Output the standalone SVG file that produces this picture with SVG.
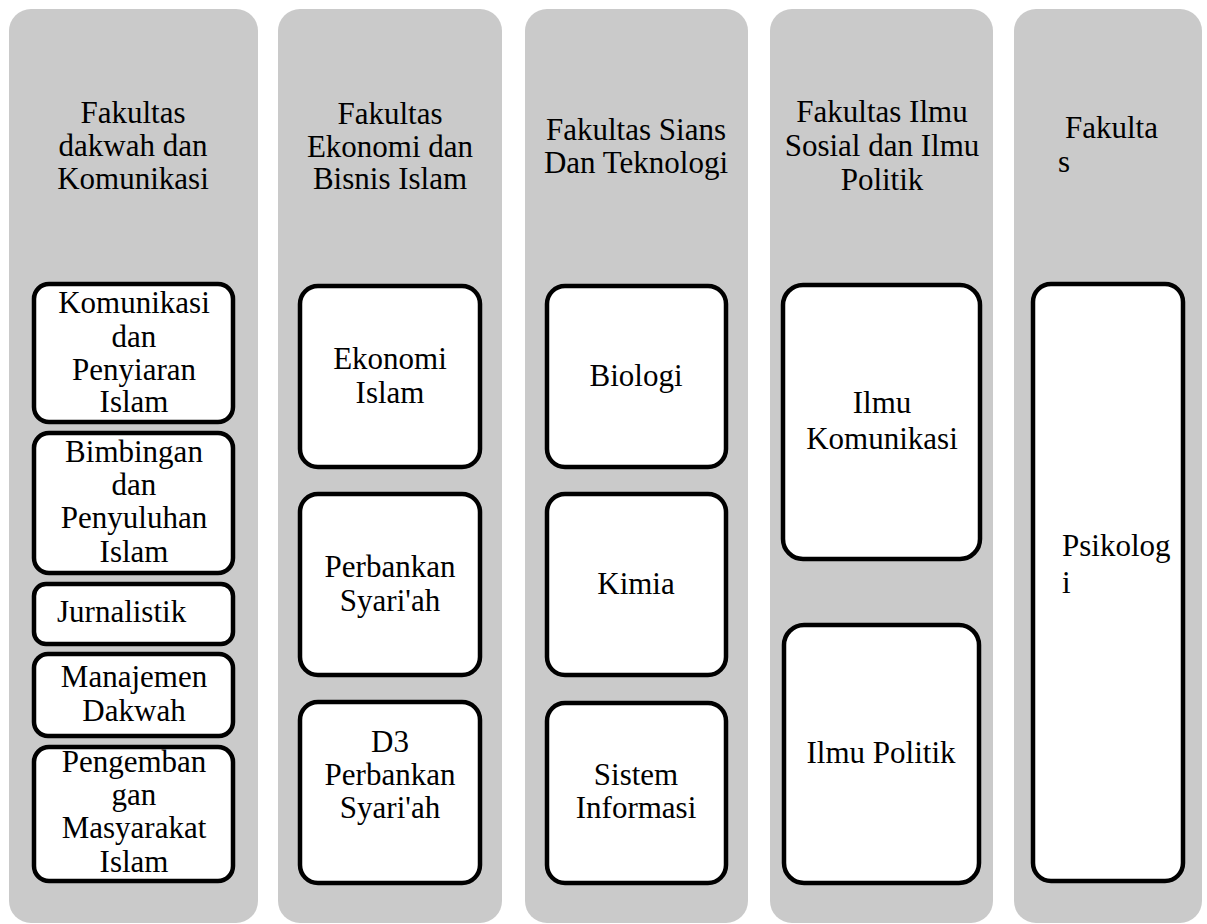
<svg xmlns="http://www.w3.org/2000/svg" width="1207" height="924" viewBox="0 0 1207 924">
<style>
.col{fill:#cacaca;stroke:none}
.box{fill:#ffffff;stroke:#000000;stroke-width:4.5}
text{font-family:"Liberation Serif","Times New Roman",serif;font-size:31px;fill:#000000}
.c{text-anchor:middle}
</style>
<rect width="1207" height="924" fill="#ffffff"/>
<g id="col1">
<rect class="col" x="9" y="9" width="249" height="914" rx="22"/>
<text class="c" x="133" y="123">Fakultas</text>
<text class="c" x="133" y="156">dakwah dan</text>
<text class="c" x="133" y="189">Komunikasi</text>
</g>
<g id="kpi">
<rect class="box" x="34" y="284" width="199" height="138" rx="15"/>
<text class="c" x="134" y="313">Komunikasi</text>
<text class="c" x="134" y="347">dan</text>
<text class="c" x="134" y="380">Penyiaran</text>
<text class="c" x="134" y="412">Islam</text>
</g>
<g id="bpi">
<rect class="box" x="34" y="433" width="199" height="140" rx="15"/>
<text class="c" x="134" y="462">Bimbingan</text>
<text class="c" x="134" y="495">dan</text>
<text class="c" x="134" y="528">Penyuluhan</text>
<text class="c" x="134" y="562">Islam</text>
</g>
<g id="jurnalistik">
<rect class="box" x="34" y="584" width="199" height="60" rx="12"/>
<text x="57" y="622">Jurnalistik</text>
</g>
<g id="md">
<rect class="box" x="34" y="654" width="199" height="82" rx="14"/>
<text class="c" x="134" y="687">Manajemen</text>
<text class="c" x="134" y="721">Dakwah</text>
</g>
<g id="pmi">
<rect class="box" x="34" y="747" width="199" height="134" rx="15"/>
<text class="c" x="134" y="772">Pengemban</text>
<text class="c" x="134" y="805">gan</text>
<text class="c" x="134" y="838">Masyarakat</text>
<text class="c" x="134" y="872">Islam</text>
</g>
<g id="col2">
<rect class="col" x="278" y="9" width="224" height="914" rx="22"/>
<text class="c" x="390" y="124">Fakultas</text>
<text class="c" x="390" y="157">Ekonomi dan</text>
<text class="c" x="390" y="189">Bisnis Islam</text>
</g>
<g id="ekonomi-islam">
<rect class="box" x="300" y="286" width="180" height="181" rx="18"/>
<text class="c" x="390" y="369">Ekonomi</text>
<text class="c" x="390" y="403">Islam</text>
</g>
<g id="perbankan-syariah">
<rect class="box" x="300" y="494" width="180" height="181" rx="18"/>
<text class="c" x="390" y="577">Perbankan</text>
<text class="c" x="390" y="611">Syari'ah</text>
</g>
<g id="d3-perbankan">
<rect class="box" x="300" y="702" width="180" height="181" rx="18"/>
<text class="c" x="390" y="752">D3</text>
<text class="c" x="390" y="785">Perbankan</text>
<text class="c" x="390" y="818">Syari'ah</text>
</g>
<g id="col3">
<rect class="col" x="525" y="9" width="223" height="914" rx="22"/>
<text class="c" x="636" y="140">Fakultas Sians</text>
<text class="c" x="636" y="173">Dan Teknologi</text>
</g>
<g id="biologi">
<rect class="box" x="547" y="286" width="179" height="181" rx="18"/>
<text class="c" x="636" y="386">Biologi</text>
</g>
<g id="kimia">
<rect class="box" x="547" y="494" width="179" height="181" rx="18"/>
<text class="c" x="636" y="594">Kimia</text>
</g>
<g id="sistem-informasi">
<rect class="box" x="547" y="703" width="179" height="180" rx="18"/>
<text class="c" x="636" y="785">Sistem</text>
<text class="c" x="636" y="818">Informasi</text>
</g>
<g id="col4">
<rect class="col" x="770" y="9" width="223" height="914" rx="22"/>
<text class="c" x="882" y="122">Fakultas Ilmu</text>
<text class="c" x="882" y="156">Sosial dan Ilmu</text>
<text class="c" x="882" y="190">Politik</text>
</g>
<g id="ilmu-komunikasi">
<rect class="box" x="783" y="285" width="197" height="274" rx="20"/>
<text class="c" x="882" y="413">Ilmu</text>
<text class="c" x="882" y="449">Komunikasi</text>
</g>
<g id="ilmu-politik">
<rect class="box" x="784" y="625" width="195" height="258" rx="20"/>
<text class="c" x="881" y="763">Ilmu Politik</text>
</g>
<g id="col5">
<rect class="col" x="1014" y="9" width="188" height="914" rx="22"/>
<text x="1065" y="138">Fakulta</text>
<text x="1058" y="172">s</text>
</g>
<g id="psikologi">
<rect class="box" x="1033" y="284" width="150" height="597" rx="18"/>
<text x="1062" y="556">Psikolog</text>
<text x="1062" y="593">i</text>
</g>
<g id="connectors"></g>
</svg>
